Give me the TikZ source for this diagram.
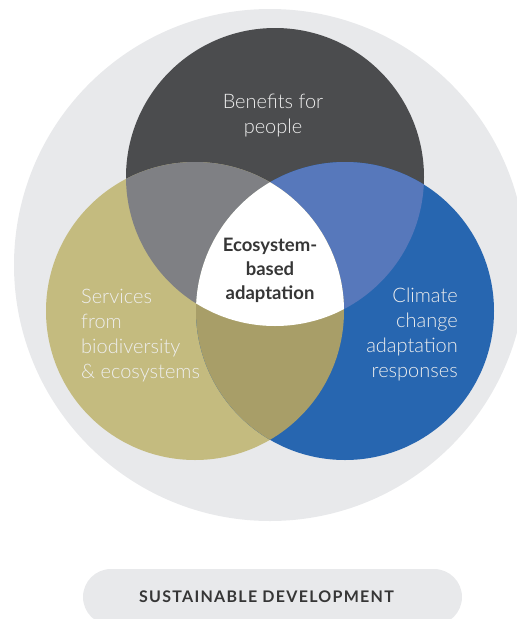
\documentclass[tikz,border=0pt]{standalone}
\usepackage{fontspec}
\setmainfont{Lato}
\newfontfamily\lightfont{Lato Light}
\newfontfamily\capsfont{Lato}[LetterSpace=8]
\usepackage{tikz}
\definecolor{ring}{HTML}{E8E9EB}
\definecolor{people}{HTML}{4B4C4E}
\definecolor{nature}{HTML}{C4BB7F}
\definecolor{climate}{HTML}{2766B0}
\definecolor{peoplenature}{HTML}{7F8084}
\definecolor{peopleclimate}{HTML}{5778BB}
\definecolor{natureclimate}{HTML}{A89E68}
\definecolor{textlight}{HTML}{EEEEEE}
\definecolor{textdark}{HTML}{363636}

\begin{document}
\begin{tikzpicture}[x=1pt,y=-1pt,
  label/.style={inner sep=0pt,text=textlight,font=\lightfont\fontsize{20}{25}\selectfont},
  core/.style={inner sep=0pt,text=textdark,font=\bfseries\fontsize{18.5}{24}\selectfont,align=center}]
\useasboundingbox (0,0) rectangle (517,619);
\clip (0,0) rectangle (517,619);
\def\rad{149pt}
% centres of the three sets
\coordinate (P) at (275,177);
\coordinate (N) at (195,311);
\coordinate (C) at (345,311);
\fill[ring] (270,265) circle (256pt);
\foreach \c/\p in {people/P,nature/N,climate/C}
\fill[\c] (\p) circle (\rad);
% pairwise overlaps
\begin{scope}
\clip (P) circle (\rad);
\fill[peoplenature] (N) circle (\rad);
\fill[peopleclimate] (C) circle (\rad);
\end{scope}
\begin{scope}
\clip (N) circle (\rad);
\fill[natureclimate] (C) circle (\rad);
\clip (C) circle (\rad);
\fill[white] (P) circle (\rad);
\end{scope}
% labels
\node[label,align=center,anchor=north] (benefits) at (273,94) {Benefits for\\people};
\node[label,align=left,anchor=north west] (services) at (81,289) {Services\\from\\biodiversity\\\& ecosystems};
\node[label,align=right,anchor=north east] (responses) at (458,288) {Climate\\change\\adaptation\\responses};
\node[core,anchor=north] (eba) at (270,238) {Ecosystem-\\based\\adaptation};
% bottom pill
\fill[ring,rounded corners=28pt] (83,569) rectangle (462,625);
\node[inner sep=0pt,text=textdark,font=\capsfont\bfseries\fontsize{16}{18}\selectfont,anchor=base] (sd) at (266.5,602) {SUSTAINABLE DEVELOPMENT};
\end{tikzpicture}
\end{document}
